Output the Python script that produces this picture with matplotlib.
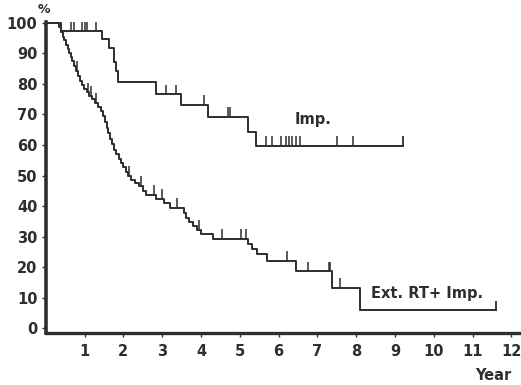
import numpy as np
import matplotlib.pyplot as plt

# Kaplan-Meier style step curves
imp_t = [0, 0.39, 1.44, 1.62, 1.75, 1.82, 1.86, 2.83, 3.48, 4.18, 5.20, 5.41, 9.2]
imp_s = [100, 97.2, 94.8, 91.8, 87.3, 84.2, 80.5, 76.6, 73.2, 69.2, 64.2, 59.8, 59.8]
imp_cens = [0.65, 0.72, 0.93, 1.0, 1.06, 1.29, 3.09, 3.35, 4.07, 4.70, 4.74,
            5.67, 5.82, 6.06, 6.18, 6.26, 6.34, 6.44, 6.55, 7.50, 7.91]

ext_t = [0, 0.33, 0.38, 0.43, 0.48, 0.52, 0.56, 0.60, 0.64, 0.68, 0.72, 0.77,
         0.82, 0.87, 0.92, 0.98, 1.05, 1.12, 1.20, 1.27, 1.35, 1.42, 1.48, 1.53,
         1.57, 1.61, 1.66, 1.71, 1.76, 1.82, 1.88, 1.94, 2.00, 2.06, 2.13, 2.20,
         2.30, 2.40, 2.50, 2.58, 2.85, 3.05, 3.20, 3.55, 3.62, 3.70, 3.80, 3.90,
         4.00, 4.30, 5.22, 5.32, 5.44, 5.70, 6.44, 7.37, 8.09, 11.6]
ext_s = [100, 98.5, 97.0, 95.5, 94.3, 92.8, 91.5, 90.2, 88.8, 87.5, 86.0, 84.2,
         82.5, 80.8, 79.5, 78.3, 77.2, 76.2, 75.0, 73.8, 72.5, 71.0, 69.6, 67.5,
         65.5, 63.8, 62.0, 60.2, 58.5, 57.0, 55.5, 54.2, 52.8, 51.3, 49.8, 48.6,
         47.5, 46.5, 45.0, 43.6, 42.4, 41.0, 39.4, 37.8, 36.2, 34.8, 33.5, 32.2,
         30.8, 29.2, 27.6, 26.0, 24.2, 22.0, 18.6, 13.3, 5.8, 5.8]
ext_cens = [0.28, 0.80, 1.08, 1.16, 1.29, 2.14, 2.45, 2.78, 2.99, 3.38, 3.94,
            4.54, 5.03, 5.15, 6.21, 6.75, 7.29, 7.33, 7.58]

xticks = list(range(1, 13))
yticks = list(range(0, 101, 10))

ink = '#2e2e2e'
plt.rcParams['font.family'] = ['DejaVu Sans']

fig = plt.figure(figsize=(5.21, 3.85), dpi=100)
ax = fig.add_axes([0.088, 0.135, 0.912, 0.808])


def step_value(t, s, x):
    i = np.searchsorted(t, x, side='right') - 1
    return s[i]


for t, s, cens in [(imp_t, imp_s, imp_cens), (ext_t, ext_s, ext_cens)]:
    ax.step(t, s, where='post', color=ink, lw=1.4)
    base = [step_value(t, s, c) for c in cens]
    ax.vlines(cens, base, np.array(base) + 3.2, color=ink, lw=1.1)
    # end-of-follow-up tick
    ax.vlines(t[-1], s[-1], s[-1] + 3.2, color=ink, lw=1.3)

ax.set_xlim(0, 12.25)
ax.set_ylim(-1.6, 100.3)
ax.spines['top'].set_visible(False)
ax.spines['right'].set_visible(False)
ax.spines['left'].set_linewidth(2.6)
ax.spines['bottom'].set_linewidth(2.4)
ax.spines['left'].set_color(ink)
ax.spines['bottom'].set_color(ink)

ax.set_xticks(xticks)
ax.set_yticks(yticks)
ax.tick_params(axis='both', colors=ink, labelsize=10.5, width=1.0, length=3)
ax.tick_params(axis='x', pad=5)
ax.tick_params(axis='y', pad=3)
for lab in ax.get_xticklabels() + ax.get_yticklabels():
    lab.set_fontweight('bold')

fig.text(0.073, 0.993, '%', fontsize=9, fontweight='bold', color=ink,
         ha='left', va='top')
fig.text(0.946, 0.025, 'Year', fontsize=10.5, fontweight='bold', color=ink,
         ha='center', va='center')

ax.text(6.42, 68.2, 'Imp.', fontsize=10.5, fontweight='bold', color=ink,
        ha='left', va='center')
ax.text(8.38, 11.5, 'Ext. RT+ Imp.', fontsize=10.5, fontweight='bold', color=ink,
        ha='left', va='center')

fig.savefig('out.png', dpi=100)
